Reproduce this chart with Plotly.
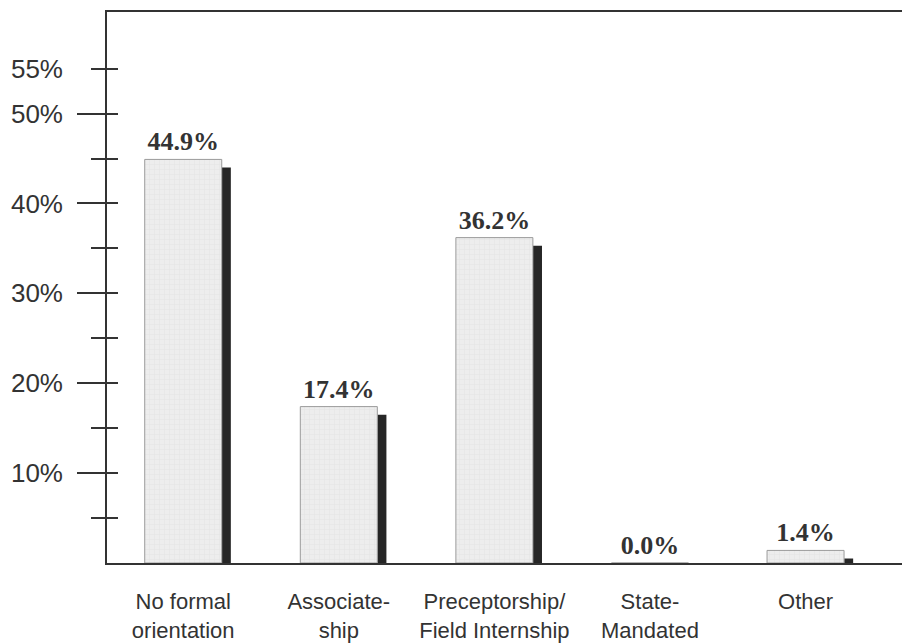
import plotly.graph_objects as go

categories = ["No formal<br>orientation", "Associate-<br>ship", "Preceptorship/<br>Field Internship",
              "State-<br>Mandated", "Other"]
values = [44.9, 17.4, 36.2, 0.0, 1.4]
value_labels = ["44.9%", "17.4%", "36.2%", "0.0%", "1.4%"]

major_ticks = [10, 20, 30, 40, 50]
minor_ticks = [5, 15, 25, 35, 45, 55]
label_ticks = [10, 20, 30, 40, 50, 55]
label_texts = ["10%", "20%", "30%", "40%", "50%", "55%"]

# styling constants
SHADOW_DROP = 0.9
shadow_values = [max(v - SHADOW_DROP, 0) for v in values]
Y_RANGE = [0, 61.3]

AX = "#333333"
SANS = "Liberation Sans, Arial, sans-serif"
SERIF = "Liberation Serif, Times New Roman, serif"

fig = go.Figure()

fig.add_trace(go.Bar(
    x=categories, y=shadow_values, width=0.058, offset=0.248,
    marker=dict(color="#262626", line=dict(width=0)),
    hoverinfo="skip", showlegend=False,
))

fig.add_trace(go.Bar(
    x=categories, y=values, width=0.495, offset=-0.2475,
    marker=dict(color="#ececec",
                line=dict(color="#9a9a9a", width=1),
                pattern=dict(shape="+", fgcolor="#d2d2d2", bgcolor="#ededed", size=5, solidity=0.15)),
    text=value_labels, textposition="outside", constraintext="none", cliponaxis=False,
    textfont=dict(family=SERIF, size=26, color=AX, weight="bold"),
    showlegend=False,
))

fig.update_layout(
    width=902, height=643,
    margin=dict(l=107, r=0, t=12, b=77),
    paper_bgcolor="white", plot_bgcolor="white",
    barmode="overlay",
    showlegend=False,
    xaxis=dict(
        range=[-0.49, 4.62], showline=True, mirror=True, linecolor=AX, linewidth=2,
        ticks="", showgrid=False, zeroline=False,
        tickfont=dict(family=SANS, size=22, color=AX),
        ticklabelstandoff=18,
    ),
    yaxis=dict(
        range=Y_RANGE, showline=True, linecolor=AX, linewidth=2,
        showgrid=False, zeroline=False,
        tickvals=major_ticks, ticks="outside", ticklen=28, tickwidth=2, tickcolor=AX,
        minor=dict(tickvals=minor_ticks, ticks="outside", ticklen=14, tickwidth=2, tickcolor=AX),
        showticklabels=False,
    ),
    yaxis2=dict(
        range=Y_RANGE, overlaying="y", side="left", anchor="x",
        showline=False, showgrid=False, zeroline=False,
        tickvals=major_ticks + minor_ticks, ticks="inside", ticklen=11, tickwidth=2, tickcolor=AX,
        showticklabels=False,
    ),
    yaxis3=dict(
        range=Y_RANGE, overlaying="y", side="left", anchor="x",
        showline=False, showgrid=False, zeroline=False,
        tickvals=label_ticks, ticktext=label_texts, ticks="",
        tickfont=dict(family=SANS, size=26, color=AX),
        ticklabelstandoff=43,
    ),
)

# invisible traces to activate the tick/label axes
fig.add_trace(go.Scatter(x=[categories[0]], y=[None], yaxis="y3", showlegend=False, hoverinfo="skip"))
fig.add_trace(go.Scatter(x=[categories[0]], y=[None], yaxis="y2", showlegend=False, hoverinfo="skip"))

fig.write_html("out.html")
